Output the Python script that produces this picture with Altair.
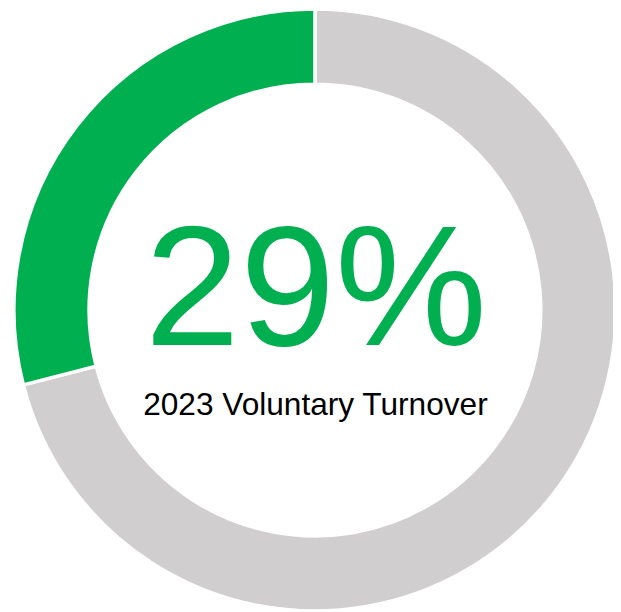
import altair as alt
import pandas as pd

# Data
segments = ["Remaining", "Voluntary Turnover"]
values = [71, 29]
seg_order = [0, 1]
colors = ["#D0CECE", "#00B050"]

headline = [f"{values[1]}%"]
subtitle = ["2023 Voluntary Turnover"]

df = pd.DataFrame({"segment": segments, "value": values, "ord": seg_order})
df_head = pd.DataFrame({"label": headline})
df_sub = pd.DataFrame({"label": subtitle})

CX, CY = 310.5, 302

ring = alt.Chart(df).mark_arc(
    outerRadius=304.5, innerRadius=228.5, stroke="white", strokeWidth=3.5
).encode(
    theta=alt.Theta("value:Q", stack=True),
    order=alt.Order("ord:Q"),
    color=alt.Color("segment:N", scale=alt.Scale(domain=segments, range=colors), legend=None),
    x=alt.value(CX),
    y=alt.value(CY),
)

big = alt.Chart(df_head).mark_text(
    font="Liberation Sans", fontSize=173, color="#00B050",
    align="center", baseline="alphabetic"
).encode(text="label:N", x=alt.value(311.5), y=alt.value(337.7))

sub = alt.Chart(df_sub).mark_text(
    font="Liberation Sans", fontSize=32, color="#000000",
    align="center", baseline="alphabetic"
).encode(text="label:N", x=alt.value(311), y=alt.value(408))

chart = alt.layer(ring, big, sub).properties(
    width=612, height=603, padding=0,
    autosize=alt.AutoSizeParams(type="none"),
).configure_view(stroke=None)

chart.save("out.html", embed_options={"renderer": "svg", "actions": False})
